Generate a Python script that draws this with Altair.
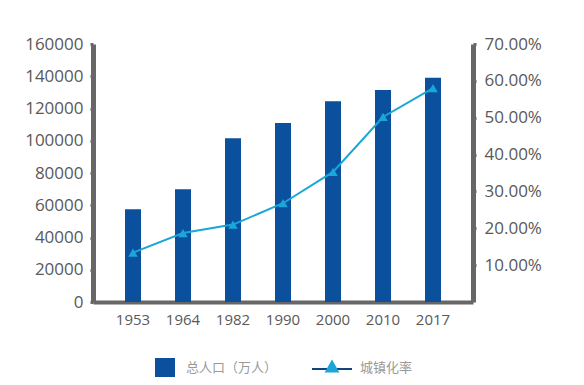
import altair as alt
import pandas as pd

years = ["1953", "1964", "1982", "1990", "2000", "2010", "2017"]
population = [57500, 70000, 101500, 111000, 124500, 131500, 139000]
urban_rate = [0.134, 0.187, 0.210, 0.268, 0.353, 0.502, 0.580]

df = pd.DataFrame({"year": years, "pop": population, "rate": urban_rate})

BAR = "#0b509c"
LINE = "#1aa6d8"
AXIS = "#676767"
LABEL = "#595959"
FONT = "Open Sans"

xenc = alt.X("year:N", sort=years, title=None,
             scale=alt.Scale(paddingInner=0.68, paddingOuter=0.64),
             axis=alt.Axis(labelAngle=0, domainColor=AXIS, domainWidth=4, ticks=False,
                           labelColor=LABEL, labelFontSize=15, labelFont=FONT, labelPadding=10))

bars = alt.Chart(df).mark_bar(color=BAR).encode(
    x=xenc,
    y=alt.Y("pop:Q", title=None,
            scale=alt.Scale(domain=[0, 160000], nice=False),
            axis=alt.Axis(values=list(range(0, 160001, 20000)), format="d", grid=False,
                          domainColor=AXIS, domainWidth=5, tickColor=AXIS, tickSize=3,
                          tickWidth=3, labelColor=LABEL, labelFontSize=17, labelFont=FONT,
                          labelPadding=7)),
)

line = alt.Chart(df).mark_line(
    color=LINE, strokeWidth=2,
    point=alt.OverlayMarkDef(shape="triangle-up", filled=True, color=LINE, size=90, opacity=1),
).encode(
    x=alt.X("year:N", sort=years),
    y=alt.Y("rate:Q", title=None,
            scale=alt.Scale(domain=[0, 0.7], nice=False),
            axis=alt.Axis(orient="right", values=[0.1, 0.2, 0.3, 0.4, 0.5, 0.6, 0.7],
                          format=".2%", grid=False, domainColor=AXIS, domainWidth=5,
                          tickColor=AXIS, tickSize=3, tickWidth=3, labelColor=LABEL,
                          labelFontSize=17, labelFont=FONT, labelPadding=8)),
)

leg_df = pd.DataFrame({"k": [0]})
leg_sq = alt.Chart(leg_df).mark_square(color=BAR, size=400, opacity=1).encode(
    x=alt.value(72), y=alt.value(324))
leg_t1 = alt.Chart(leg_df).mark_text(text="总人口（万人）", align="left", baseline="middle",
                                      font="Noto Sans CJK SC", fontSize=13, color="#999999").encode(
    x=alt.value(93), y=alt.value(324))
leg_rule = alt.Chart(leg_df).mark_rule(color="#10457e", strokeWidth=2).encode(
    x=alt.value(219), x2=alt.value(259), y=alt.value(325))
leg_tri = alt.Chart(leg_df).mark_point(shape="triangle-up", filled=True, color=LINE, size=220, opacity=1).encode(
    x=alt.value(239), y=alt.value(322))
leg_t2 = alt.Chart(leg_df).mark_text(text="城镇化率", align="left", baseline="middle",
                                      font="Noto Sans CJK SC", fontSize=13, color="#999999").encode(
    x=alt.value(267), y=alt.value(324))

chart = alt.layer(bars, line, leg_sq, leg_t1, leg_rule, leg_tri, leg_t2).resolve_scale(
    y="independent"
).properties(
    width=380, height=258,
    background="white",
    autosize=alt.AutoSizeParams(type="none"),
    padding={"left": 85, "top": 36, "right": 103, "bottom": 75},
).configure_view(strokeWidth=0, stroke="transparent")

chart.save("out.html", embed_options={"renderer": "svg", "actions": False})
